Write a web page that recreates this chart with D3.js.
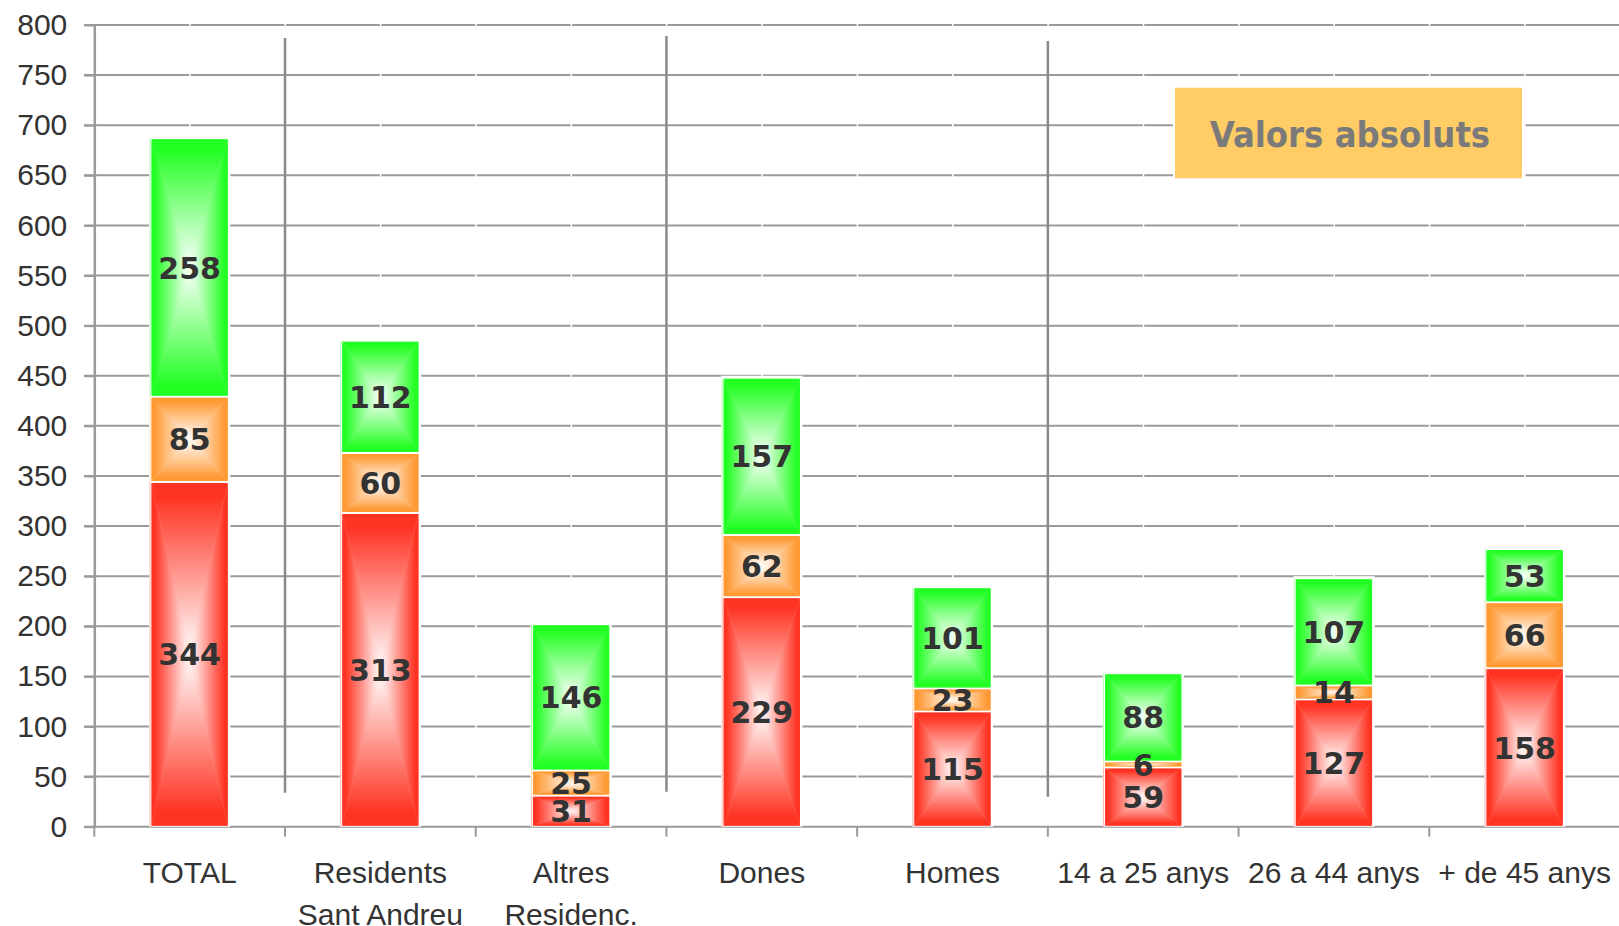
<!DOCTYPE html>
<html>
<head>
<meta charset="utf-8">
<script src="https://cdn.jsdelivr.net/npm/d3@7"></script>
<style>
  html, body { margin: 0; padding: 0; background: #fff; }
  svg { display: block; }
</style>
</head>
<body>
<svg id="chart" width="1619" height="926"></svg>
<script>
// Categories (line breaks marked with \n)
const categories = [
  "TOTAL",
  "Residents\nSant Andreu",
  "Altres\nResidenc.",
  "Dones",
  "Homes",
  "14 a 25 anys",
  "26 a 44 anys",
  "+ de 45 anys"
];

// Stacked series, bottom to top
const negatiu = [344, 313, 31, 229, 115, 59, 127, 158];
const neutre  = [85, 60, 25, 62, 23, 6, 14, 66];
const positiu = [258, 112, 146, 157, 101, 88, 107, 53];

const yTicks = [0, 50, 100, 150, 200, 250, 300, 350, 400, 450, 500, 550, 600, 650, 700, 750, 800];

// Groups start at these category indices (a divider is drawn on their left)
const groupStarts = [1, 3, 5];

const boxTitle = "Valors absoluts";

// ---- layout & style ----
const seriesKeys = ["negatiu", "neutre", "positiu"];
const seriesData = { negatiu, neutre, positiu };
const seriesColor = { negatiu: "#ff3322", neutre: "#ff9933", positiu: "#22ff22" };
const dividerSpan = [[787, 34], [789, 35], [784, 30]];   // value extents of each divider

const gridColor = "#9a9a9a";
const textColor = "#333333";

const svg = d3.select("#chart");

const y = d3.scaleLinear().domain([0, 800]).range([826.7, 25]);
const x = d3.scaleBand().domain(categories).range([94.3, 1620])
  .paddingInner(0.6).paddingOuter(0.3);
const step = x.step();
const bw = x.bandwidth();
const boundary = i => x(categories[i]) - step * 0.3;

// gradients: colour at the edges fading to white at the centre
const defs = svg.append("defs");
const dirs = {
  t: [0, 0, 0, 1], b: [0, 1, 0, 0], l: [0, 0, 1, 0], r: [1, 0, 0, 0]
};
seriesKeys.forEach(k => {
  Object.entries(dirs).forEach(([d, v]) => {
    const g = defs.append("linearGradient")
      .attr("id", `g-${k}-${d}`)
      .attr("x1", v[0]).attr("y1", v[1]).attr("x2", v[2]).attr("y2", v[3]);
    g.append("stop").attr("offset", 0).attr("stop-color", seriesColor[k]);
    g.append("stop").attr("offset", 0.08).attr("stop-color", seriesColor[k]);
    g.append("stop").attr("offset", 1).attr("stop-color", "#ffffff");
  });
});

// horizontal gridlines, broken at every half category
const breaks = [];
categories.forEach((c, i) => {
  breaks.push(boundary(i));
  breaks.push(x(c) + bw / 2);
});
breaks.push(boundary(categories.length - 1) + step);

const grid = svg.append("g");
yTicks.filter(v => v > 0).forEach(v => {
  for (let i = 0; i < breaks.length - 1; i++) {
    const xa = i === 0 ? 84 : breaks[i] + 1;
    grid.append("line")
      .attr("x1", xa).attr("x2", Math.min(breaks[i + 1] - 0.5, 1619))
      .attr("y1", y(v)).attr("y2", y(v))
      .attr("stroke", gridColor).attr("stroke-width", 2);
  }
});

// y axis
const yAxis = svg.append("g")
  .attr("transform", "translate(94.3,0)")
  .call(d3.axisLeft(y).tickValues(yTicks).tickSize(10).tickSizeOuter(0).tickPadding(17));
yAxis.select(".domain").attr("stroke", gridColor).attr("stroke-width", 2.5);
yAxis.selectAll(".tick line").attr("stroke", gridColor).attr("stroke-width", 2);
yAxis.selectAll(".tick text")
  .attr("font-family", "'Liberation Sans', Arial, sans-serif")
  .attr("font-size", 30).attr("fill", textColor);

// baseline and category ticks
svg.append("line")
  .attr("x1", 84).attr("x2", 1619).attr("y1", y(0)).attr("y2", y(0))
  .attr("stroke", gridColor).attr("stroke-width", 2);
categories.forEach((c, i) => {
  svg.append("line")
    .attr("x1", boundary(i)).attr("x2", boundary(i))
    .attr("y1", y(0)).attr("y2", y(0) + 10)
    .attr("stroke", gridColor).attr("stroke-width", 2);
});

// group dividers
groupStarts.forEach((gi, j) => {
  svg.append("line")
    .attr("x1", boundary(gi)).attr("x2", boundary(gi))
    .attr("y1", y(dividerSpan[j][0])).attr("y2", y(dividerSpan[j][1]))
    .attr("stroke", "#8a8a8a").attr("stroke-width", 2.5);
});

// x axis labels
const xAxis = svg.append("g")
  .attr("transform", `translate(0,${y(0)})`)
  .call(d3.axisBottom(x).tickSize(0).tickSizeOuter(0));
xAxis.select(".domain").remove();
xAxis.selectAll(".tick text").each(function(d) {
  const t = d3.select(this);
  t.text(null).attr("dy", null).attr("y", null)
    .attr("font-family", "'Liberation Sans', Arial, sans-serif")
    .attr("font-size", 30).attr("fill", textColor);
  d.split("\n").forEach((line, i) => {
    t.append("tspan").attr("x", 0).attr("y", 56.6 + i * 41.5).text(line);
  });
});

// stacked bars
const rows = categories.map((c, i) => {
  const r = { cat: c };
  seriesKeys.forEach(k => r[k] = seriesData[k][i]);
  return r;
});
const stacked = d3.stack().keys(seriesKeys)(rows);
const totals = rows.map(r => d3.sum(seriesKeys, k => r[k]));

const bars = svg.append("g");
// white halo behind each stack
rows.forEach((r, i) => {
  bars.append("rect")
    .attr("x", x(r.cat) - 2.5).attr("y", y(totals[i]) - 2)
    .attr("width", bw + 5).attr("height", y(0) - y(totals[i]) + 2)
    .attr("fill", "#ffffff");
});

stacked.forEach(layer => {
  const k = layer.key;
  layer.forEach(d => {
    const x0 = x(d.data.cat), x1 = x0 + bw;
    const y0 = y(d[1]) + 1, y1 = y(d[0]) - 1;
    const cx = (x0 + x1) / 2, cy = (y0 + y1) / 2;
    const g = bars.append("g");
    g.append("rect").attr("x", x0).attr("y", y0)
      .attr("width", bw).attr("height", Math.max(0, y1 - y0))
      .attr("fill", d3.interpolateRgb(seriesColor[k], "#fff")(0.5));
    const tri = [
      ["t", [[x0, y0], [x1, y0], [cx, cy]]],
      ["b", [[x0, y1], [x1, y1], [cx, cy]]],
      ["l", [[x0, y0], [x0, y1], [cx, cy]]],
      ["r", [[x1, y0], [x1, y1], [cx, cy]]]
    ];
    tri.forEach(([dir, pts]) => {
      g.append("polygon")
        .attr("points", pts.map(p => p.join(",")).join(" "))
        .attr("fill", `url(#g-${k}-${dir})`);
    });
    // faint outer edge on the left
    g.append("line")
      .attr("x1", x0 - 1.5).attr("x2", x0 - 1.5).attr("y1", y0 - 1).attr("y2", y1 + 1)
      .attr("stroke", seriesColor[k]).attr("stroke-opacity", 0.35).attr("stroke-width", 1);
  });
});

// value labels, centred on each segment
const labels = svg.append("g")
  .attr("font-family", "'DejaVu Sans', Verdana, sans-serif")
  .attr("font-weight", "bold")
  .attr("font-size", 30)
  .attr("fill", textColor)
  .attr("text-anchor", "middle");
stacked.forEach(layer => {
  layer.forEach(d => {
    const v = d[1] - d[0];
    labels.append("text")
      .attr("x", x(d.data.cat) + bw / 2)
      .attr("y", (y(d[0]) + y(d[1])) / 2 + 11)
      .text(v);
  });
});

// title box
svg.append("rect")
  .attr("x", 1174).attr("y", 86.7).attr("width", 349).attr("height", 92.6)
  .attr("fill", "#ffcc66").attr("stroke", "#ffffff").attr("stroke-width", 2);
svg.append("text")
  .attr("x", 1350).attr("y", 147.3)
  .attr("text-anchor", "middle")
  .attr("font-family", "'DejaVu Sans Condensed', 'DejaVu Sans', sans-serif")
  .attr("font-stretch", "condensed")
  .attr("font-weight", "bold")
  .attr("font-size", 36)
  .attr("fill", "#7a7a7a")
  .text(boxTitle);
</script>
</body>
</html>
